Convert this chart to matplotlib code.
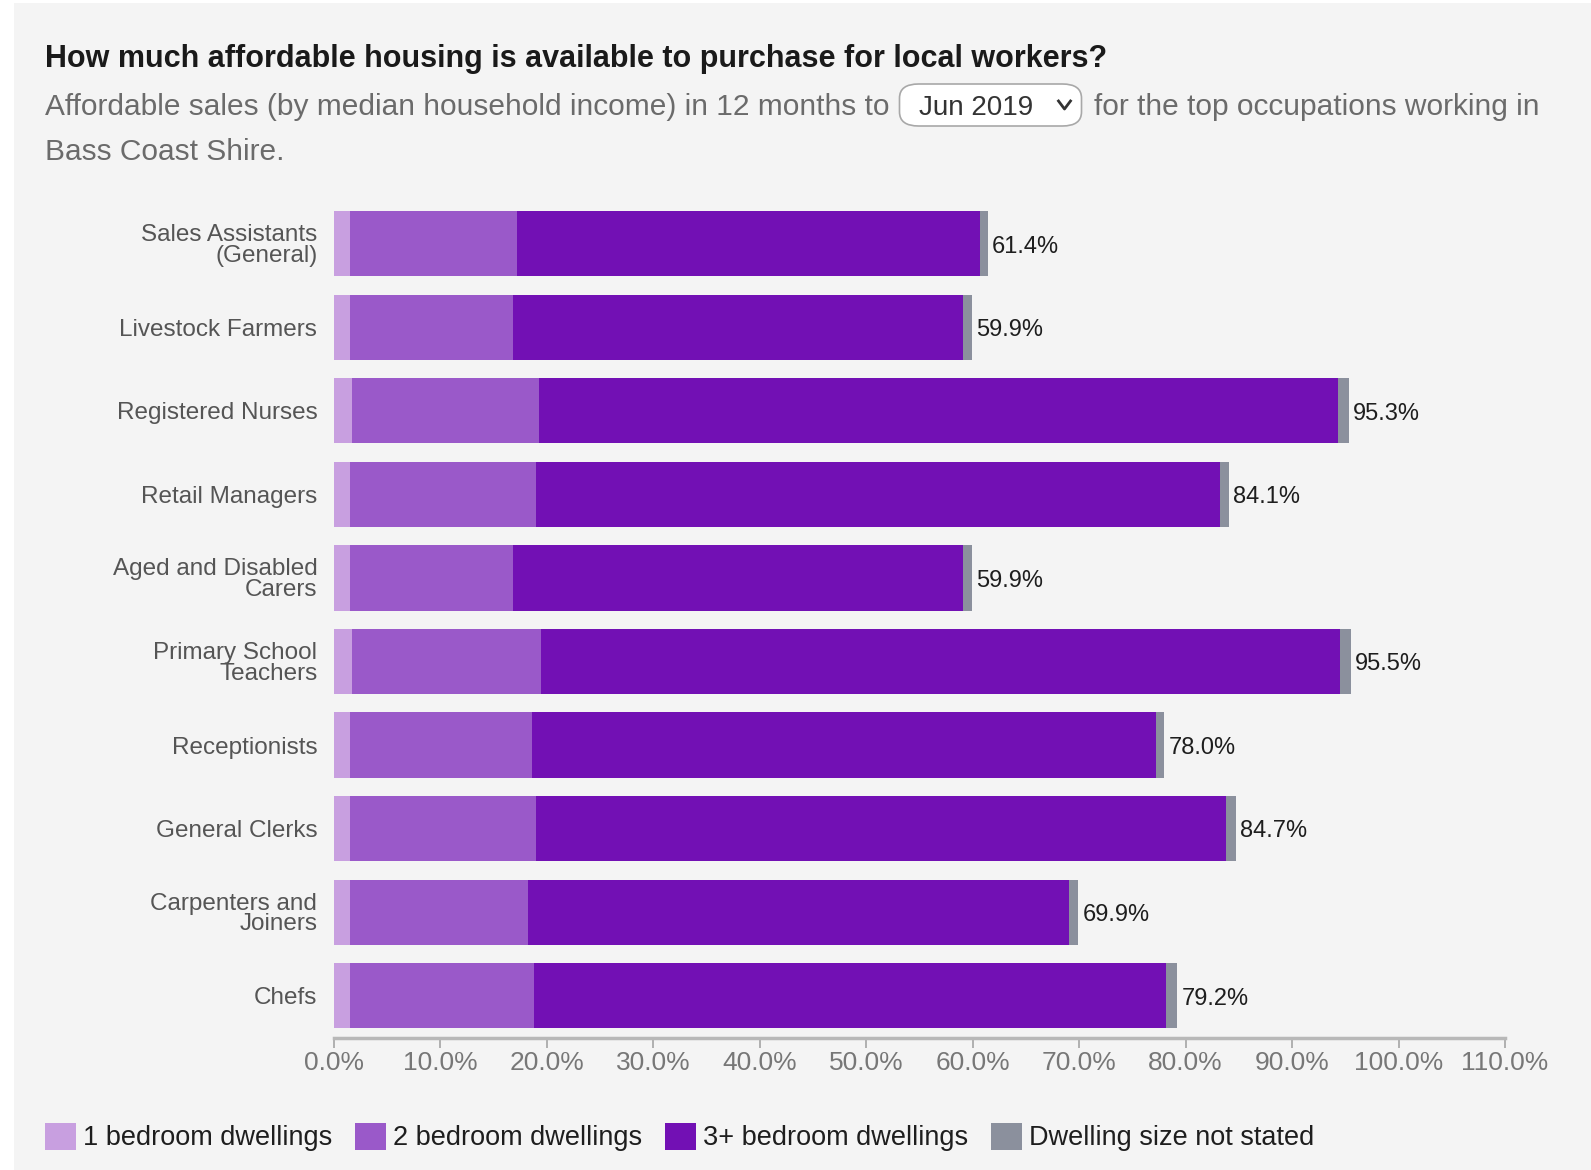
import numpy as np
import matplotlib
matplotlib.use("Agg")
import matplotlib.pyplot as plt
from matplotlib.patches import Patch, Rectangle, FancyBboxPatch
from matplotlib.lines import Line2D

plt.rcParams['font.family'] = ['Liberation Sans', 'DejaVu Sans']

# occupations, top to bottom
occupations = ['Sales Assistants\n(General)', 'Livestock Farmers', 'Registered Nurses',
               'Retail Managers', 'Aged and Disabled\nCarers', 'Primary School\nTeachers',
               'Receptionists', 'General Clerks', 'Carpenters and\nJoiners', 'Chefs']

# share of affordable sales (%) by dwelling size
one_bed = [1.5, 1.5, 1.7, 1.5, 1.5, 1.7, 1.5, 1.5, 1.5, 1.5]
two_bed = [15.7, 15.3, 17.6, 17.5, 15.3, 17.7, 17.1, 17.5, 16.7, 17.3]
three_plus_bed = [43.5, 42.3, 75.0, 64.2, 42.3, 75.1, 58.6, 64.8, 50.8, 59.4]
not_stated = [0.7, 0.8, 1.0, 0.9, 0.8, 1.0, 0.8, 0.9, 0.9, 1.0]

series_names = ['1 bedroom dwellings', '2 bedroom dwellings',
                '3+ bedroom dwellings', 'Dwelling size not stated']
colors = ['#c89fe0', '#9a59c9', '#7210b4', '#8b909d']

xticks = [0, 10, 20, 30, 40, 50, 60, 70, 80, 90, 100, 110]

W, H = 1591, 1170
fig = plt.figure(figsize=(W / 100, H / 100), dpi=100, facecolor='white')


def fx(px):
    return px / W


def fy(px):
    return 1 - px / H


# grey panel behind everything
fig.add_artist(Rectangle((fx(14), 0), 1 - fx(14), fy(3), transform=fig.transFigure,
                         facecolor='#f4f4f4', edgecolor='none', zorder=0))

# header
fig.text(fx(45), fy(67), 'How much affordable housing is available to purchase for local workers?',
         fontsize=22, fontweight='bold', color='#1a1a1a', va='baseline', ha='left')

renderer = fig.canvas.get_renderer()
sub_kw = dict(fontsize=21.5, color='#6b6b6b', va='baseline', ha='left')
t1 = fig.text(fx(45), fy(115), 'Affordable sales (by median household income) in 12 months to', **sub_kw)
bb = t1.get_window_extent(renderer)
box_l = bb.x1 + 10
box_w = 182
fig.add_artist(FancyBboxPatch((fx(box_l), fy(126)), fx(box_w), (126 - 84) / H,
                              boxstyle='round,pad=0,rounding_size=0.012',
                              transform=fig.transFigure, facecolor='white',
                              edgecolor='#a8a8a8', linewidth=1.2, zorder=2))
fig.text(fx(box_l + 19), fy(115), 'Jun 2019', fontsize=20, color='#333333',
         va='baseline', ha='left', zorder=3)
cx = box_l + 165
fig.add_artist(Line2D([fx(cx - 6), fx(cx), fx(cx + 6)], [fy(101), fy(109), fy(101)],
                      transform=fig.transFigure, color='#333333', linewidth=2, zorder=3))
fig.text(fx(box_l + box_w + 13), fy(115), 'for the top occupations working in', **sub_kw)
fig.text(fx(45), fy(160), 'Bass Coast Shire.', **sub_kw)

# chart area
ax = fig.add_axes([fx(334), fy(1037.5), fx(1505 - 334), (1037.5 - 202) / H])
ax.set_facecolor('none')

y = np.arange(len(occupations))
left = np.zeros(len(occupations))
for vals, name, col in zip([one_bed, two_bed, three_plus_bed, not_stated], series_names, colors):
    ax.barh(y, vals, left=left, height=0.78, color=col, label=name, zorder=2)
    left = left + np.array(vals)

for i, total in enumerate(left):
    ax.annotate(f'{total:.1f}%', xy=(total, i), xytext=(3, -2), textcoords='offset points',
                va='center', ha='left', fontsize=17, color='#1e1e1e')

ax.set_xlim(0, 110)
ax.set_ylim(len(occupations) - 0.5, -0.5)
ax.set_yticks(y)
ax.set_yticklabels(occupations, fontsize=17.5, color='#555555', linespacing=0.92)
ax.set_xticks(xticks)
ax.set_xticklabels([f'{t:.1f}%' for t in xticks], fontsize=19, color='#777777')
ax.tick_params(axis='y', length=0, pad=12)
ax.tick_params(axis='x', length=7, width=1.3, color='#aaaaaa', pad=3)
for s in ['top', 'right', 'left']:
    ax.spines[s].set_visible(False)
ax.spines['bottom'].set_color('#b8b8b8')
ax.spines['bottom'].set_linewidth(2.5)

handles = [Patch(facecolor=c, edgecolor='none') for c in colors]
fig.legend(handles, series_names, loc='center left', bbox_to_anchor=(fx(45), fy(1137)),
           ncol=4, frameon=False, fontsize=19.5, handlelength=1.15, handleheight=1.15,
           handletextpad=0.25, columnspacing=0.85, borderpad=0, borderaxespad=0,
           labelcolor='#1e1e1e')

fig.savefig('out.png', dpi=100, facecolor=fig.get_facecolor())
